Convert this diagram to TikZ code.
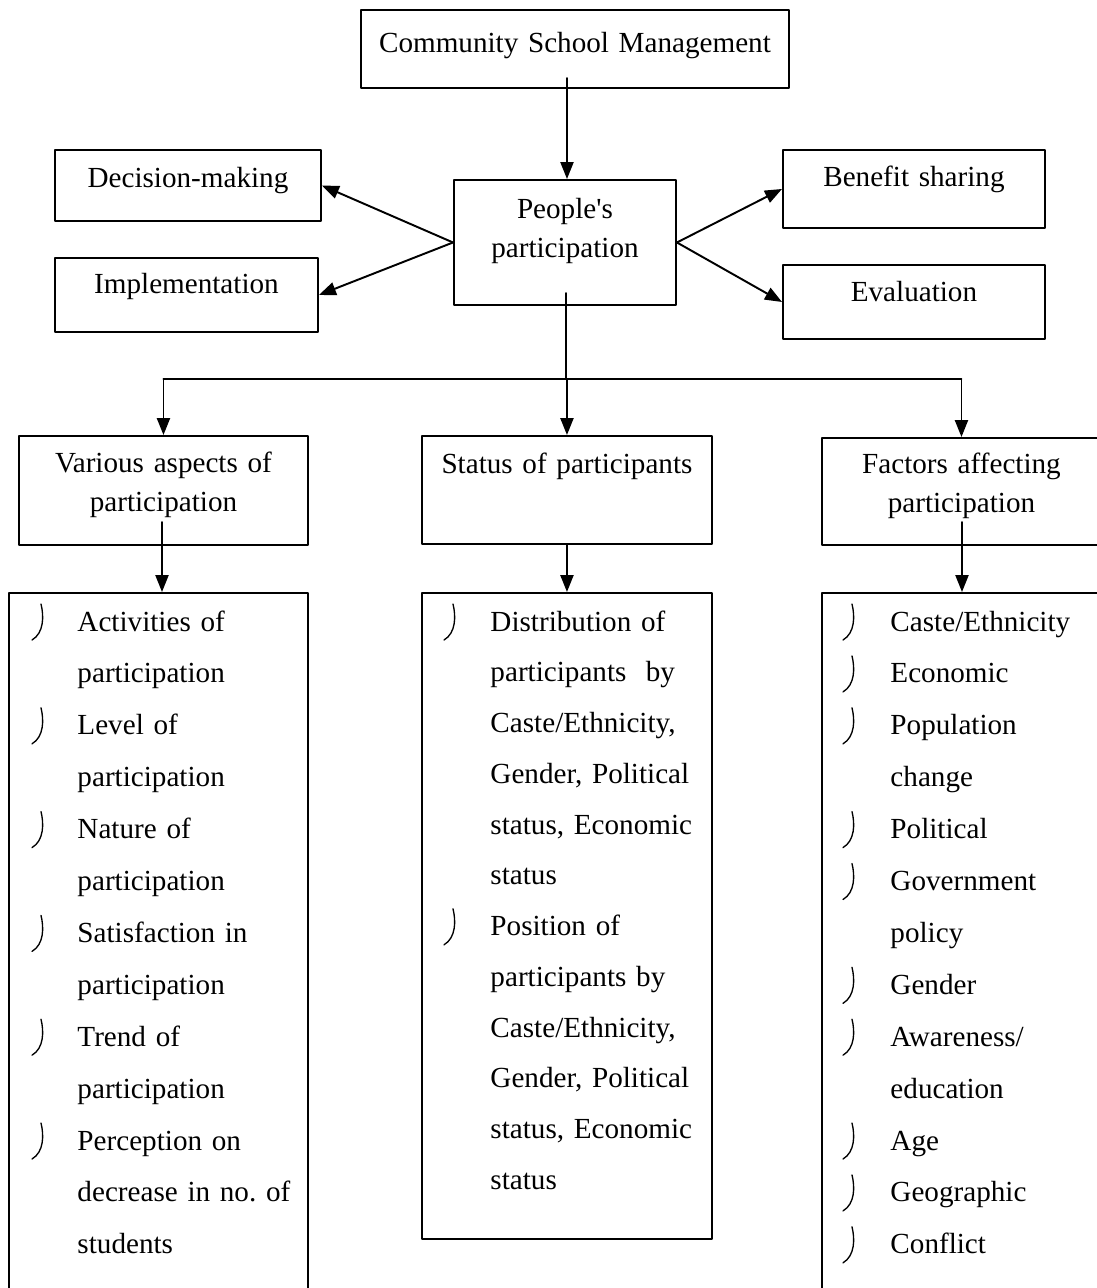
\documentclass[tikz,border=0pt]{standalone}
\usepackage{fontspec}
\setmainfont{Liberation Serif}
\usetikzlibrary{arrows.meta, calc}
\newdimen\pxu \pxu=0.4117pt
\frenchspacing

\tikzset{
    box/.style={draw, line width=0.8pt, inner sep=0pt, anchor=north west, align=center, font=\fontsize{12}{15.8}\selectfont},
    listbox/.style={draw, line width=0.8pt, inner sep=0pt, anchor=north west},
    listtext/.style={inner sep=0pt, anchor=base west, align=left, text width=260\pxu, font=\fontsize{12}{21.37}\selectfont},
    arr/.style={line width=0.8pt, -{Triangle[length=7pt,width=5.4pt]}},
    bulhook/.pic={\draw[line width=0.55pt, line cap=round] (9,-27) .. controls (12,-15) and (12,2) .. (0,9);}
}

\begin{document}
\begin{tikzpicture}[line cap=round, line join=round, x=0.4117pt, y=-0.4117pt]
    \useasboundingbox (0,0) rectangle (1097,1288);

    % top of the chart
    \node[box, text width=428\pxu, text height=43\pxu, text depth=35\pxu] (cmgt) at (360,9) {Community School Management};
    \node[box, text width=222\pxu, text height=39\pxu, text depth=86\pxu] (people) at (453,179) {People\textquotesingle s\\participation};

    % stages of participation
    \node[box, text width=266\pxu, text height=38\pxu, text depth=33\pxu] (decision) at (54,149) {Decision-making};
    \node[box, text width=263\pxu, text height=36\pxu, text depth=38\pxu] (implement) at (54,257) {Implementation};
    \node[box, text width=262\pxu, text height=37\pxu, text depth=41\pxu] (benefit) at (782,149) {Benefit sharing};
    \node[box, text width=262\pxu, text height=37\pxu, text depth=37\pxu] (evaluation) at (782,264) {Evaluation};

    % three branches
    \node[box, text width=289\pxu, text height=37\pxu, text depth=72\pxu] (aspects) at (18,435) {Various aspects of\\participation};
    \node[box, text width=290\pxu, text height=38\pxu, text depth=70\pxu] (status) at (421,435) {Status of participants};
    \node[box, text width=279\pxu, text height=36\pxu, text depth=71\pxu] (factors) at (821,437) {Factors affecting\\participation};

    % lists
    \node[listbox, minimum width=299\pxu, minimum height=720\pxu] (aspectsList) at (8,592) {};
    \node[listbox, minimum width=290\pxu, minimum height=646\pxu] (statusList) at (421,592) {};
    \node[listbox, minimum width=279\pxu, minimum height=720\pxu] (factorsList) at (821,592) {};

    \node[listtext] (aspectsText) at (77,631) {Activities of\\participation\\Level of\\participation\\Nature of\\participation\\Satisfaction in\\participation\\Trend of\\participation\\Perception on\\decrease in no. of\\students};
    \node[listtext, font=\fontsize{12}{20.9}\selectfont] (statusText) at (490,631) {Distribution of\\participants~ by\\Caste/Ethnicity,\\Gender, Political\\status, Economic\\status\\Position of\\participants by\\Caste/Ethnicity,\\Gender, Political\\status, Economic\\status};
    \node[listtext] (factorsText) at (890,631) {Caste/Ethnicity\\Economic\\Population\\change\\Political\\Government\\policy\\Gender\\Awareness/\\education\\Age\\Geographic\\Conflict};

    % bullets
    \foreach \k in {0,2,4,6,8,10} \pic at (32,{631+51.9*\k}) {bulhook};
    \foreach \k in {0,6} \pic at (444,{631+50.8*\k}) {bulhook};
    \foreach \k in {0,1,2,4,5,7,8,10,11,12} \pic at (843,{631+51.9*\k}) {bulhook};

    % connectors
    \coordinate (cmgtOut) at (567,78);
    \draw[arr] (cmgtOut) -- (cmgtOut |- people.north);
    \foreach \target in {decision, implement} {
        \draw[arr] (people.west) -- (\target.east);
    }
    \foreach \target in {benefit, evaluation} {
        \draw[arr] (people.east) -- (\target.west);
    }

    \coordinate (peopleOut) at (566,293);
    \coordinate (fork) at (566,379);
    \draw[line width=0.8pt] (peopleOut) -- (fork);
    \draw[line width=0.8pt] (fork -| aspects.north) -- (fork -| factors.north);
    \foreach \target in {aspects, status, factors} {
        \draw[arr] (fork -| \target.north) -- (\target.north);
    }

    \coordinate (aspectsOut) at (162,522);
    \coordinate (factorsOut) at (962,522);
    \draw[arr] (aspectsOut) -- (aspectsOut |- aspectsList.north);
    \draw[arr] (status.south) -- (statusList.north);
    \draw[arr] (factorsOut) -- (factorsOut |- factorsList.north);
\end{tikzpicture}
\end{document}
